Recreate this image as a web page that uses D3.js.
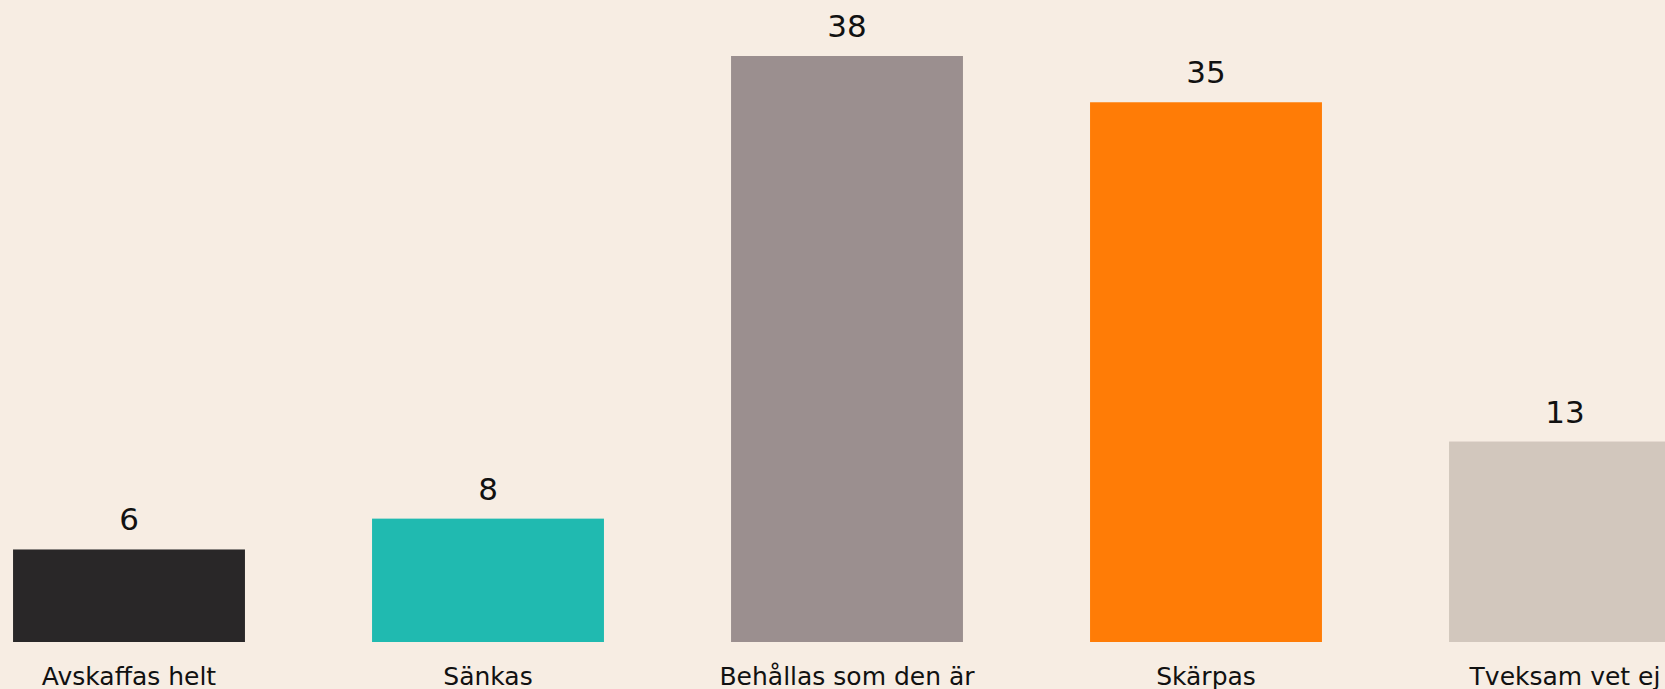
<!DOCTYPE html>
<html>
<head>
<meta charset="utf-8">
<script src="https://cdn.jsdelivr.net/npm/d3@7"></script>
<style>
  html, body { margin: 0; padding: 0; background: #f7ede3; overflow: hidden; }
  svg { display: block; }
  text { font-family: "Century Gothic", "DejaVu Sans", sans-serif; fill: #111; }
</style>
</head>
<body>
<div id="container"></div>
<script>
let categories = ['Avskaffas helt', 'Sänkas', 'Behållas som den är', 'Skärpas', 'Tveksam vet ej'];
let values = [6, 8, 38, 35, 13];
let colors = ['#292728', '#20bab0', '#9b8f8f', '#ff7c06', '#d2c7bd'];
const width = 1665, height = 689;
const svg = d3.select('#container').append('svg').attr('width', width).attr('height', height);

// plot area runs past the right edge, last bar is cut off like in the original
const x = d3.scaleBand().domain(categories).range([-50.5, 1744.5]).paddingInner(0.354).paddingOuter(0.177);
const y = d3.scaleLinear().domain([0, 38]).range([642, 56]);

let bar = svg.selectAll('g.bar')
    .data(values)
    .enter()
    .append('g')
    .attr('class', 'bar');

bar.append('rect')
    .attr('x', (d, i) => x(categories[i]))
    .attr('y', d => y(d))
    .attr('width', x.bandwidth())
    .attr('height', d => y(0) - y(d))
    .attr('fill', (d, i) => colors[i]);

bar.append('text')
    .attr('x', (d, i) => x(categories[i]) + x.bandwidth() / 2)
    .attr('y', d => y(d) - 19)
    .attr('text-anchor', 'middle')
    .style('font-size', '31px')
    .text(d => d);

// category labels under the bars
const xAxis = svg.append('g').attr('transform', `translate(0, ${y(0)})`)
    .call(d3.axisBottom(x).tickSize(0).tickPadding(0));
xAxis.select('.domain').remove();
xAxis.selectAll('text')
    .attr('y', 43).attr('dy', 0)
    .style('font-size', '25px')
    .style('fill', '#111')
    .style('font-family', '"Century Gothic", "DejaVu Sans", sans-serif');
</script>
</body>
</html>
